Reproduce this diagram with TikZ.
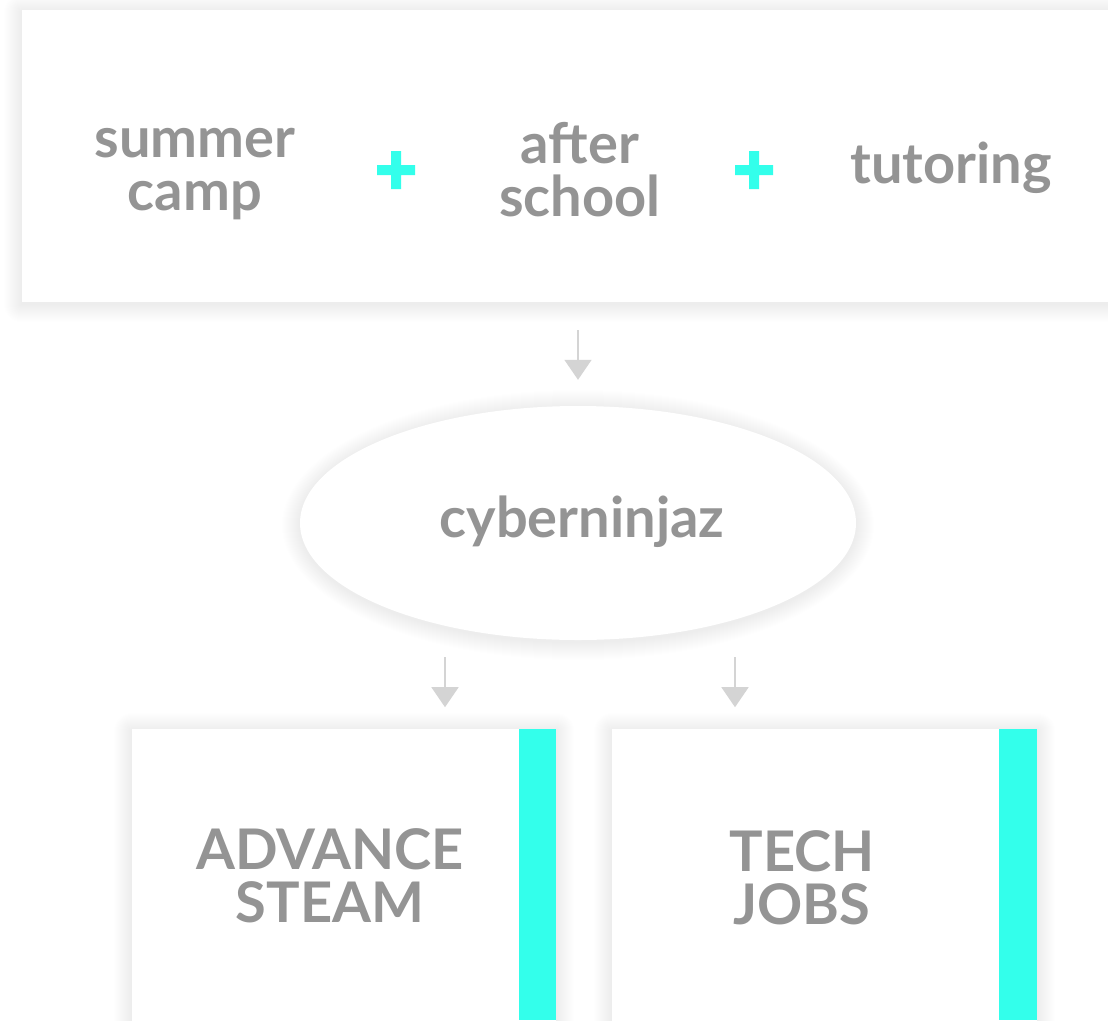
\documentclass[tikz,border=0pt]{standalone}
\usepackage{fontspec}
\setmainfont{Lato}
\usetikzlibrary{shapes.geometric,arrows.meta,positioning}
\definecolor{mygray}{RGB}{148,148,148}
\definecolor{mycyan}{RGB}{51,255,235}
\definecolor{myarrow}{RGB}{212,212,212}
\pgfdeclarelayer{paper}
\pgfdeclarelayer{glow}
\pgfsetlayers{paper,glow,main}
\tikzstyle{panel}=[fill=white,rectangle,inner sep=0pt]
\tikzstyle{word}=[text=mygray,align=center,font=\fontsize{56}{53}\selectfont\bfseries]
\tikzstyle{plus}=[fill=mycyan,draw=none]
\tikzstyle{arr}=[draw=myarrow,line width=1.5pt,-{Triangle[width=27pt,length=20pt]}]
\tikzstyle{haze}=[fill=black,opacity=0.0045]
% soft shadow round a box node
\newcommand{\boxglow}[1]{%
  \foreach \k in {1,...,18} {
    \fill[haze,rounded corners=\k pt] ([shift={(-\k,-\k+2)}]#1.north west) rectangle ([shift={(\k,\k+2)}]#1.south east);
  }}

\begin{document}
\begin{tikzpicture}[x=1pt,y=-1pt]
\useasboundingbox (0,0) rectangle (1108,1020);
\clip (0,0) rectangle (1108,1020);
\begin{pgfonlayer}{paper}
\fill[white] (0,0) rectangle (1108,1020);
\end{pgfonlayer}
% top panel
\node [panel,minimum width=1110pt,minimum height=292pt,anchor=north west] (top) at (22,10) {};
\node [word] (camp) at (195,174) {summer\\camp};
\node [word] (school) at (580,170) {after\\school};
\node [word] (tutor) at (951,168) {tutoring};
\fill[plus] (377,165) rectangle (415,175) (391,151) rectangle (401,189);
\fill[plus] (735,165) rectangle (773,175) (749,151) rectangle (759,189);
% middle
\node [panel,ellipse,minimum width=556pt,minimum height=234pt] (ninja) at (578,523) {};
\node [word] (ninjatxt) at (582,522) {cyberninjaz};
% bottom panels
\node [panel,minimum width=424pt,minimum height=320pt,anchor=north west] (adv) at (132,729) {};
\node [panel,minimum width=425pt,minimum height=320pt,anchor=north west] (jobs) at (612,729) {};
\fill[mycyan] (519,729) rectangle (556,1020);
\fill[mycyan] (999,729) rectangle (1037,1020);
\node [word] (advtxt) at (330,876) {ADVANCE\\STEAM};
\node [word] (jobstxt) at (802,878) {TECH\\JOBS};
% shadows
\begin{pgfonlayer}{glow}
\boxglow{top}
\boxglow{adv}
\boxglow{jobs}
\foreach \k in {1,...,18}
  \fill[haze] ([yshift=-2pt]ninja.center) ellipse [x radius=278+\k, y radius=117+\k];
\end{pgfonlayer}
% arrows
\draw [arr] (top.south -| ninja.north) ++(0,28) -- ([yshift=26pt]ninja.north);
\draw [arr] ([xshift=-133pt,yshift=-17pt]ninja.south) -- ++(0,50);
\draw [arr] ([xshift=157pt,yshift=-17pt]ninja.south) -- ++(0,50);
\end{tikzpicture}
\end{document}
